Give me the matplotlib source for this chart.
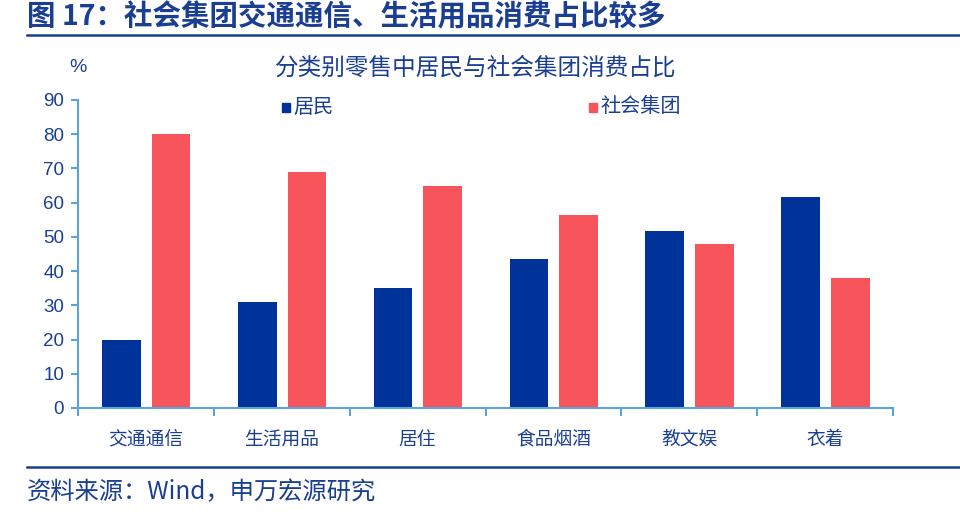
import numpy as np
import matplotlib
matplotlib.use("Agg")
import matplotlib.pyplot as plt
from matplotlib.lines import Line2D
from matplotlib.patches import Rectangle

plt.rcParams['font.family'] = ['Noto Sans CJK SC', 'DejaVu Sans']

# 数据：分类别零售中居民与社会集团消费占比 (%)
categories = ['交通通信', '生活用品', '居住', '食品烟酒', '教文娱', '衣着']
resident = [20.0, 31.0, 35.0, 43.5, 51.8, 61.6]
group = [80.0, 69.0, 65.0, 56.4, 48.0, 38.1]
yticks = [0, 10, 20, 30, 40, 50, 60, 70, 80, 90]

text_color = '#1A3E92'
axis_color = '#5BA3DC'
blue = '#003399'
red = '#F8545C'

W, H = 960, 520
fig = plt.figure(figsize=(9.6, 5.2), dpi=100)
ax = fig.add_axes([78 / W, 1 - 408 / H, 815 / W, 308 / H])

x = np.arange(len(categories))
w = 0.285
ax.bar(x - 0.18, resident, width=w, color=blue, label='居民', zorder=2)
ax.bar(x + 0.185, group, width=w, color=red, label='社会集团', zorder=2)

ax.set_xlim(-0.5, len(categories) - 0.5)
ax.set_ylim(0, 90)
ax.set_yticks(yticks)
ax.set_yticklabels([str(v) for v in yticks], fontsize=13.5, color=text_color,
                   family=['Liberation Sans', 'DejaVu Sans'])

# x轴：刻度在类别之间，标签居中
ax.set_xticks(np.arange(-0.5, len(categories), 1.0))
ax.set_xticklabels([])
ax.set_xticks(x, minor=True)
ax.set_xticklabels(categories, minor=True, fontsize=13.5, color=text_color)
ax.tick_params(axis='x', which='minor', length=0, pad=15)
ax.tick_params(axis='x', which='major', length=6, color=axis_color, width=1.5, direction='out')
ax.tick_params(axis='y', length=5, color=axis_color, width=1.5, pad=5)

for s in ['top', 'right']:
    ax.spines[s].set_visible(False)
for s in ['left', 'bottom']:
    ax.spines[s].set_color(axis_color)
    ax.spines[s].set_linewidth(1.5)

# 图例（手工放置，与原图一致）
for sx, col, lab in [(282, blue, '居民'), (589, red, '社会集团')]:
    fig.add_artist(Rectangle((sx / W, 1 - 112 / H), 8 / W, 9 / H,
                             transform=fig.transFigure, color=col))
    fig.text((sx + 11) / W, 1 - 107 / H, lab, color=text_color, fontsize=14.5,
             va='center')

# 标题与注释
fig.text(27 / W, 1 - 17 / H, '图 17：社会集团交通通信、生活用品消费占比较多',
         color=text_color, fontsize=20.5, fontweight='bold', va='center')
fig.add_artist(Line2D([27 / W, 1], [1 - 35 / H, 1 - 35 / H], color=text_color, lw=1.8))
fig.text(476 / W, 1 - 68 / H, '分类别零售中居民与社会集团消费占比',
         color=text_color, fontsize=17, ha='center', va='center')
fig.text(78 / W, 1 - 67 / H, '%', color=text_color, fontsize=14, ha='center', va='center',
         family=['Liberation Sans', 'DejaVu Sans'])
fig.add_artist(Line2D([27 / W, 1], [1 - 467 / H, 1 - 467 / H], color=text_color, lw=1.8))
fig.text(27 / W, 1 - 492 / H, '资料来源：Wind，申万宏源研究',
         color=text_color, fontsize=17.5, va='center')

fig.savefig('out.png', dpi=100)
